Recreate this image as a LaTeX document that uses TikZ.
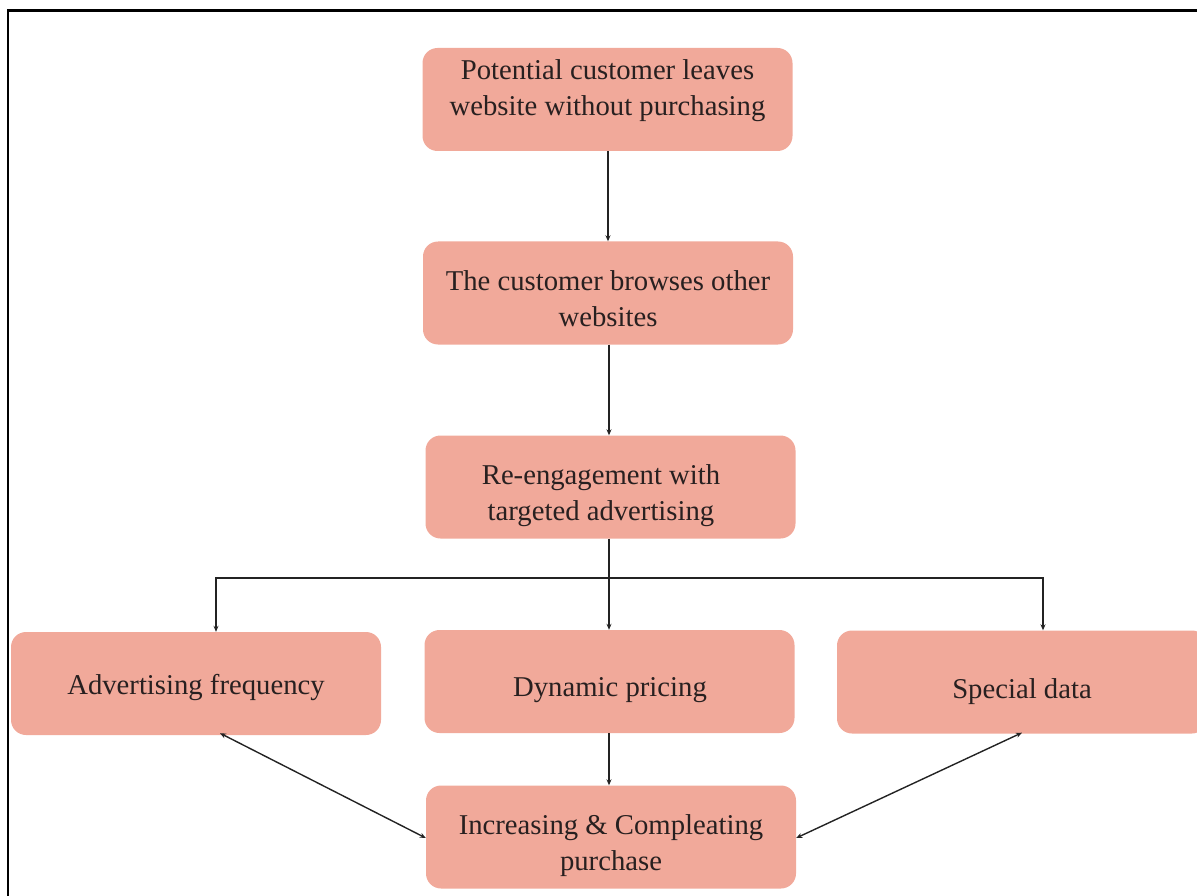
\documentclass[tikz,border=0pt]{standalone}
\usepackage{fontspec}
\setmainfont{Liberation Serif}
\usetikzlibrary{arrows.meta}
\definecolor{boxfill}{RGB}{241,169,154}
\definecolor{txtcol}{RGB}{40,32,32}
\definecolor{linecol}{RGB}{35,35,35}
\tikzset{
  stepbox/.style={rectangle, rounded corners=15pt, fill=boxfill, draw=none,
    minimum width=370pt, minimum height=103pt, inner sep=0pt},
  boxtext/.style={text=txtcol, align=center, inner sep=0pt,
    font=\fontsize{28.7pt}{36pt}\selectfont},
  arr/.style={draw=linecol, line width=1.4pt, -{Stealth[length=6pt,width=5pt]}},
  dblarr/.style={draw=linecol, line width=1.4pt, {Stealth[length=6pt,width=5pt]}-{Stealth[length=6pt,width=5pt]}},
  plainline/.style={draw=linecol, line width=1.4pt}
}
\begin{document}
\begin{tikzpicture}[x=1pt,y=-1pt]
\useasboundingbox (0,0) rectangle (1197,896);
\clip (0,0) rectangle (1197,896);
% frame
\draw[line width=2.2pt] (8,1000) -- (8,10.5) -- (1300,10.5);
% boxes
\node[stepbox] (b1) at (607.5,99.5) {};
\node[boxtext] (t1) at (607.5,91) {Potential customer leaves\\website without purchasing};
\node[stepbox] (b2) at (608,293) {};
\node[boxtext] (t2) at (608,299) {The customer browses other\\websites};
\node[stepbox] (b3) at (610.5,487) {};
\node[boxtext] (t3) at (601,496) {Re-engagement with\\targeted advertising};
\node[stepbox] (b4) at (196,683.5) {};
\node[boxtext] (t4) at (196,687) {Advertising frequency};
\node[stepbox] (b5) at (609.5,681.5) {};
\node[boxtext] (t5) at (610,690) {Dynamic pricing};
\node[stepbox] (b6) at (1022,682) {};
\node[boxtext] (t6) at (1022,692) {Special data};
\node[stepbox] (b7) at (611,837) {};
\node[boxtext] (t7) at (611,846) {Increasing \& Compleating\\purchase};
% connectors
\coordinate (split) at (609,578);
\draw[arr] (b1.south -| 608,0) -- (b2.north -| 608,0);
\draw[arr] (b2.south -| split) -- (b3.north -| split);
\draw[plainline] (b3.south -| split) -- (split);
\draw[arr] (split) -| ([xshift=20pt]b4.north);
\draw[arr] (split) -| ([xshift=21pt]b6.north);
\draw[arr] (split) -- (b5.north -| split);
\draw[arr] (b5.south -| split) -- (b7.north -| split);
\draw[dblarr] ([xshift=24pt,yshift=2pt]b4.south) -- ([yshift=-1pt]b7.west);
\draw[dblarr] ([yshift=1pt]b6.south) -- ([yshift=-1pt]b7.east);
\end{tikzpicture}
\end{document}
